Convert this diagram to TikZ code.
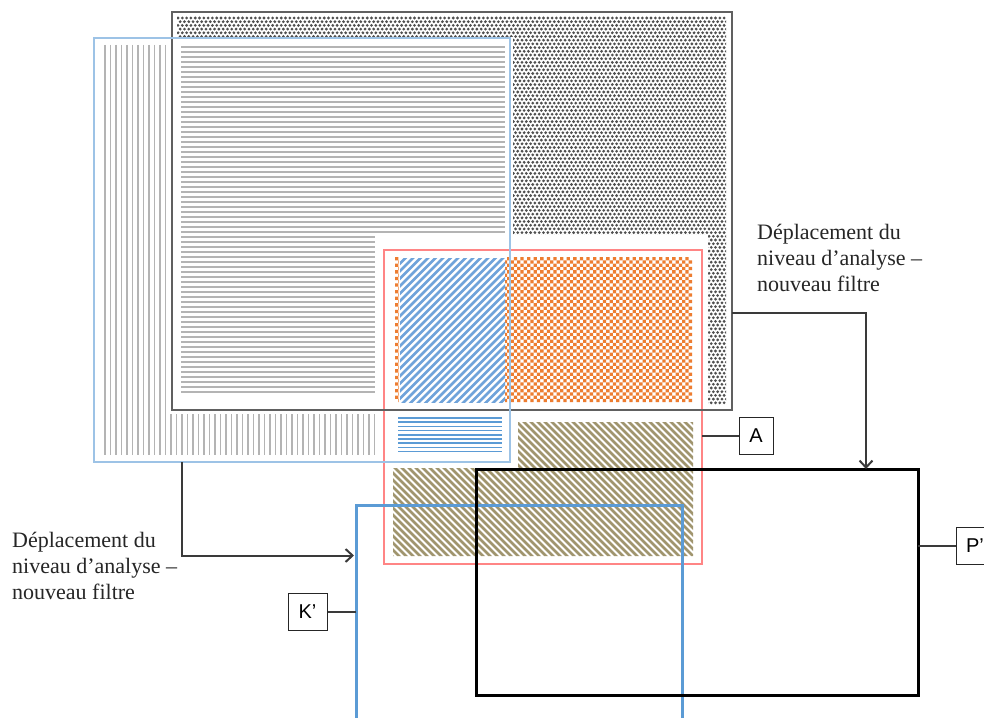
\documentclass[tikz,border=0pt]{standalone}
\usepackage{fontspec}
\setmainfont{Liberation Serif}
\newfontfamily\boxfont{Liberation Sans}
\usetikzlibrary{arrows.meta}
\definecolor{dotgray}{HTML}{505050}
\definecolor{linegray}{HTML}{B4B4B4}
\definecolor{framegray}{HTML}{606060}
\definecolor{lightblue}{HTML}{9DC3E6}
\definecolor{midblue}{HTML}{5B9BD5}
\definecolor{hatchblue}{HTML}{6FA3DA}
\definecolor{orangec}{HTML}{ED7D31}
\definecolor{olivec}{HTML}{A0956E}
\definecolor{redframe}{HTML}{FF8585}
\definecolor{conncol}{HTML}{3A3A3A}
\begin{document}
\begin{tikzpicture}[x=1pt,y=-1pt,
  frame/.style={inner sep=0pt, outer sep=0pt, anchor=north west},
  conn/.style={draw=conncol, line width=2pt},
  tag/.style={draw=black!85, line width=1pt, fill=white, minimum height=37pt, inner sep=0pt, font=\boxfont\fontsize{20}{24}\selectfont},
  lbl/.style={inner sep=0pt, font=\fontsize{22}{26}\selectfont, text=black!85}]
\useasboundingbox (0,0) rectangle (984,717);
\fill[white] (0,0) rectangle (984,717);

% vertical gray lines (blue frame content)
\begin{scope}
  \clip (103,45) rectangle (375,455);
  \draw[linegray, line width=1.7pt] foreach \i in {0,...,49} {({105+\i*5.5},45) -- ++(0,410)};
\end{scope}

% gray frame content
\fill[white] (169,12) rectangle (735,414);
\begin{scope}
  \clip (177,17) rectangle (726,404);
  \foreach \j in {0,...,6} {
    \fill[dotgray] foreach \i in {0,...,128} {({178+\i*4.3+mod(\j,2)*2.15},{18+\j*3.7}) circle (1.55)};
  }
  \foreach \j in {7,...,105} {
    \fill[dotgray] foreach \i in {76,...,128} {({178+\i*4.3+mod(\j,2)*2.15},{18+\j*3.7}) circle (1.55)};
  }
\end{scope}
\fill[white] (175,37) rectangle (513,404);
\draw[linegray, line width=1.7pt] foreach \j in {0,...,69} {(181,{47+\j*5}) -- (505,{47+\j*5})};

% red group content
\fill[white] (375,235) rectangle (708,568);
\foreach \j in {0,...,43} {
  \fill[orangec] foreach \i in {0,2,...,88} {({395+(\i+mod(\j,2))*3.3},{257+\j*3.3}) rectangle ++(3.3,3.3)};
}
\fill[white] (399,256) rectangle (505,403);
\begin{scope}
  \clip (400,258) rectangle (505,402);
  \draw[hatchblue, line width=2.8pt] foreach \k in {0,...,34} {({250+\k*7.5},406) -- ++(155,-155)};
\end{scope}
\draw[midblue, line width=1.7pt] foreach \k in {0,...,8} {(398,{418+\k*4.2}) -- (502,{418+\k*4.2})};
\begin{scope}
  \clip (518,422) rectangle (693,468) (393,468) rectangle (693,556);
  \draw[olivec, line width=2.8pt] foreach \k in {0,...,66} {({240+\k*7},418) -- ++(145,145)};
\end{scope}

% frames
\node[frame, draw=redframe, line width=1.5pt, minimum width=318pt, minimum height=314pt] (R) at (384,250) {};
\node[frame, draw=framegray, line width=1.5pt, minimum width=560pt, minimum height=398pt] (G) at (172,12) {};
\node[frame, draw=lightblue, line width=1.5pt, minimum width=416pt, minimum height=424pt] (B) at (94,38) {};
\node[frame, draw=midblue, line width=3pt, minimum width=326pt, minimum height=230pt] (K) at (356,505) {};
\node[frame, draw=black, line width=3pt, minimum width=442pt, minimum height=226pt] (P) at (476,469) {};

% tags
\node[tag, minimum width=34pt] (TA) at (756,435.5) {A};
\node[tag, minimum width=38pt] (TP) at (975,546) {P’};
\node[tag, minimum width=39pt] (TK) at (307.5,611.5) {K’};
\draw[conn] (TA.west) -- (TA.west -| R.east);
\draw[conn] (TP.west) -- (TP.west -| P.east);
\draw[conn] (TK.east) -- (TK.east -| K.west);

% shift connectors
\draw[conn, -{Straight Barb[length=7pt,width=13pt]}] ([yshift=-102pt]G.east) -| ([xshift=169pt]P.north);
\draw[conn, -{Straight Barb[length=7pt,width=13pt]}] ([xshift=-120pt]B.south) |- ([yshift=64.5pt,xshift=-2pt]K.west);

% labels
\node[lbl, anchor=base west] (LR) at (757,239) {\begin{tabular}[t]{@{}l@{}}Déplacement du\\niveau d’analyse –\\nouveau filtre\end{tabular}};
\node[lbl, anchor=base west] (LL) at (12,547) {\begin{tabular}[t]{@{}l@{}}Déplacement du\\niveau d’analyse –\\nouveau filtre\end{tabular}};
\end{tikzpicture}
\end{document}
